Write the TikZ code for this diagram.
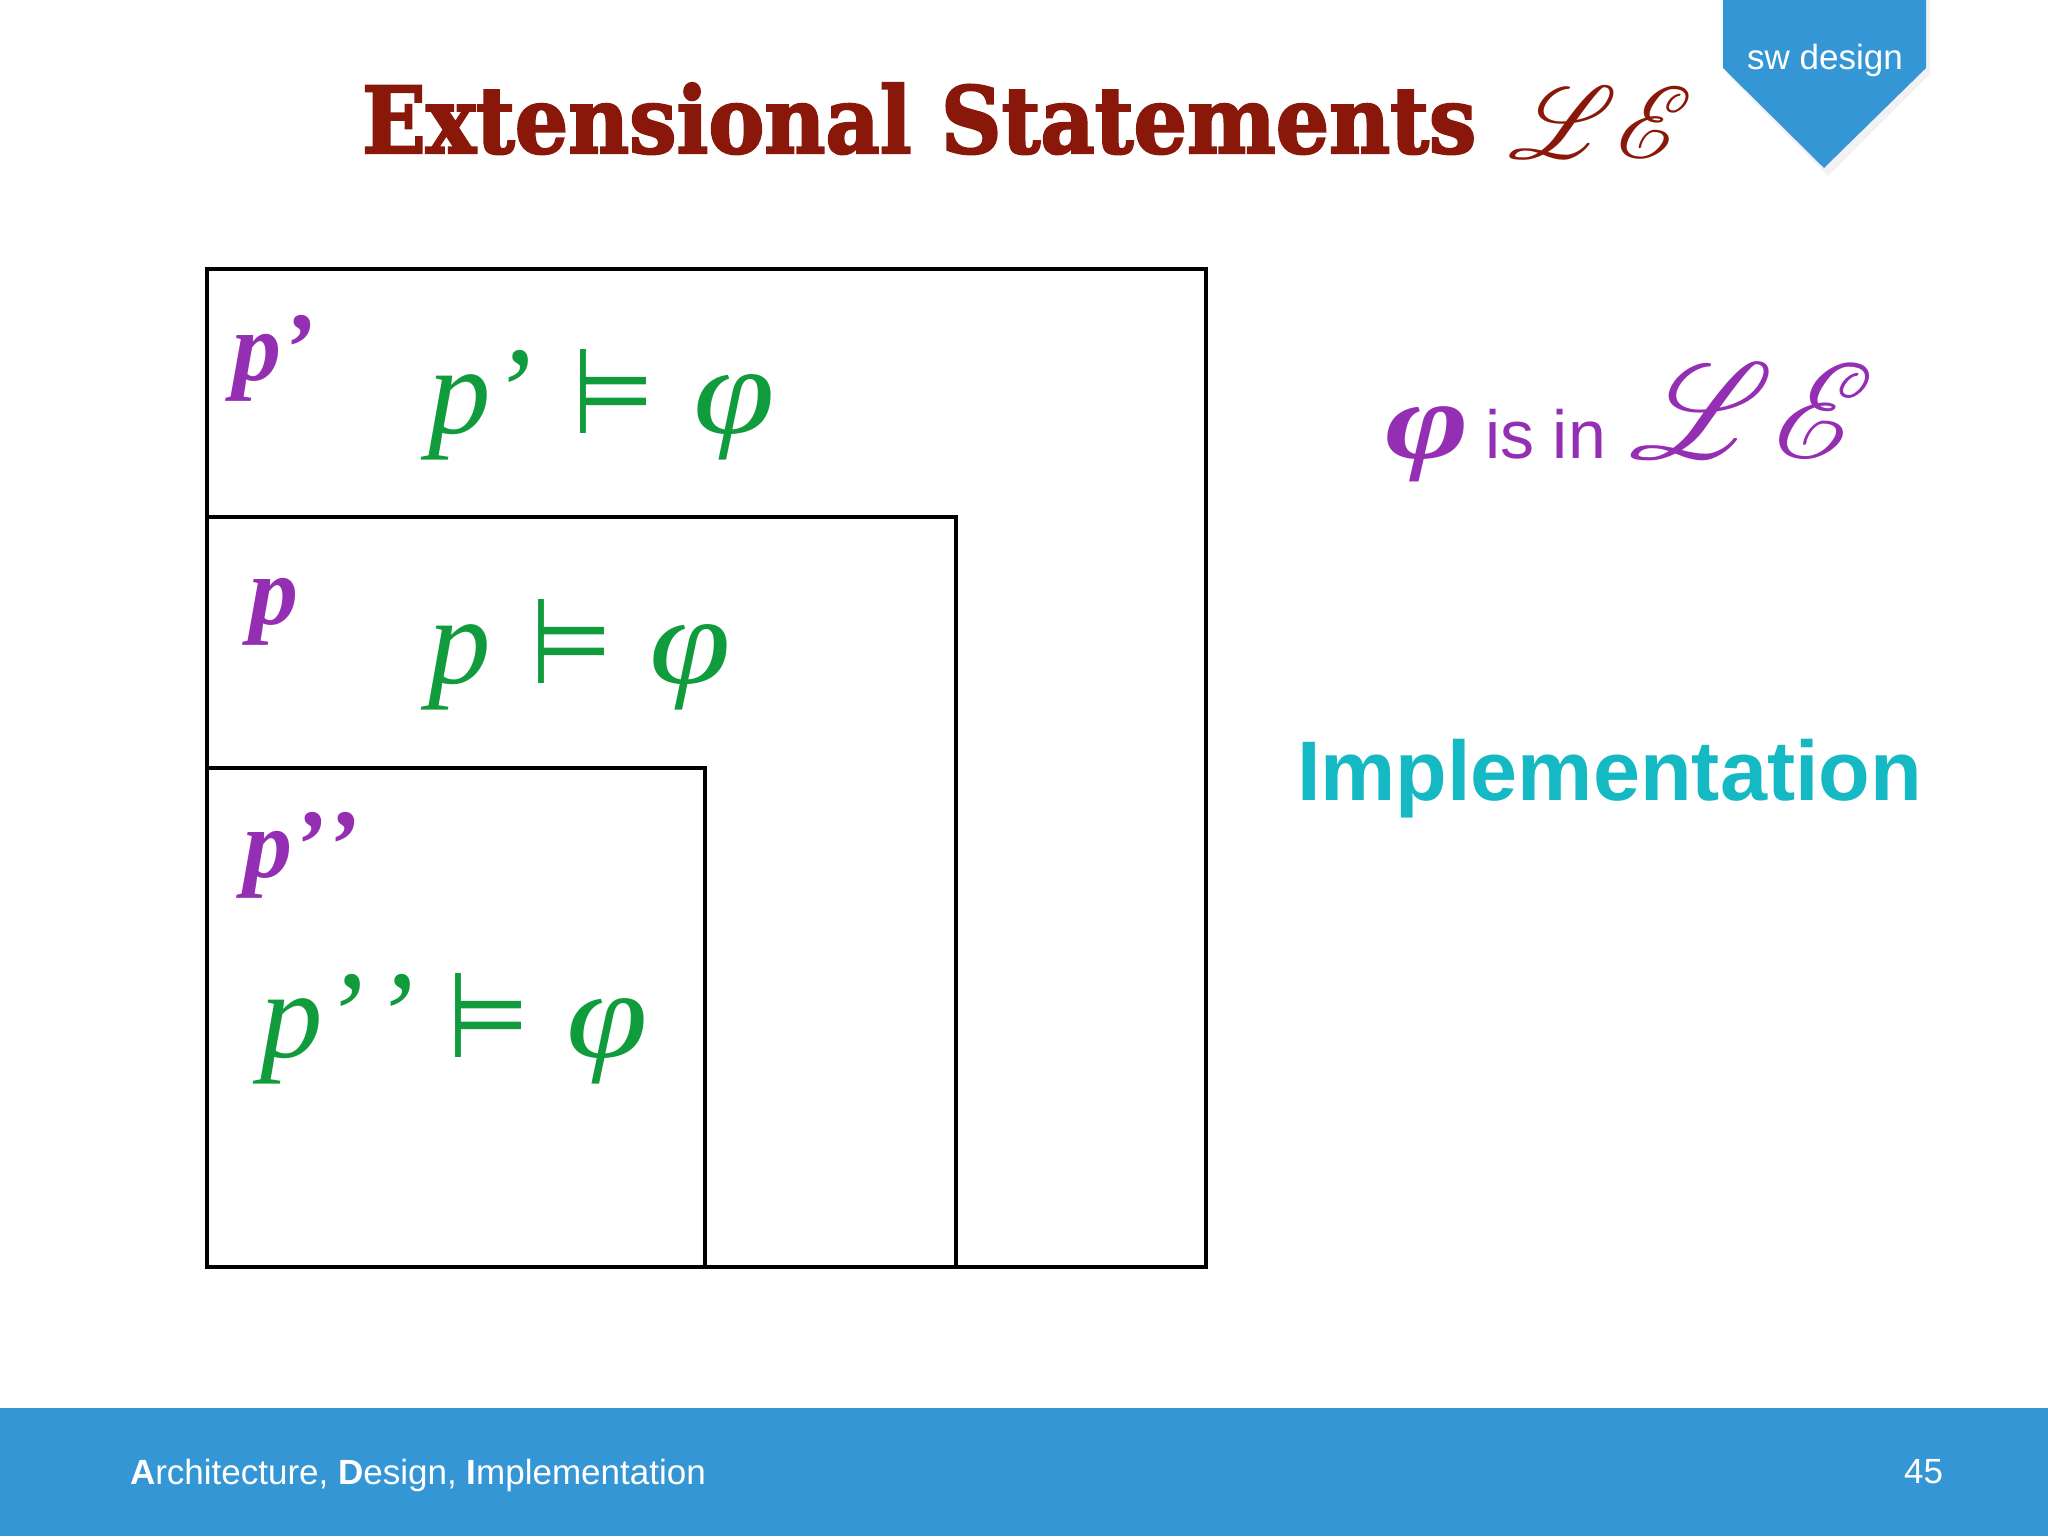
\documentclass[tikz,border=0pt]{standalone}
\usepackage{fontspec}
\usepackage{mathrsfs}
\setmainfont{Liberation Serif}
\newfontfamily\hel{Liberation Sans}
\newfontfamily\dvs{DejaVu Sans}
\newfontfamily\slab{DejaVu Serif}[FakeBold=2.5]
\newlength\pxu \setlength\pxu{0.5pt}
\definecolor{swblue}{RGB}{52,150,212}
\definecolor{titlered}{RGB}{138,24,10}
\definecolor{ppl}{RGB}{148,46,178}
\definecolor{grn}{RGB}{16,155,60}
\definecolor{teal}{RGB}{21,185,195}
\newcommand\fs[1]{\fontsize{#1}{#1}\selectfont}
\tikzset{
  txt/.style={inner sep=0pt, outer sep=0pt, anchor=base west},
  boxline/.style={draw=black, line width=2pt},
  plabel/.style={txt, text=ppl, font=\fs{49pt}\bfseries\itshape},
  formula/.style={txt, text=grn, font=\fs{62.5pt}\itshape},
}
\newcommand\ent{\resizebox{41pt}{42pt}{\upshape\dvs ⊨}}
\newcommand\phibig{\scalebox{1.18}[1]{φ}}
\begin{document}
\begin{tikzpicture}[x=0.5pt,y=-0.5pt]
\useasboundingbox (0,0) rectangle (2048,1536);
\fill[white] (0,0) rectangle (2048,1536);
% tag
\fill[black!5] (1727,0) -- (1930,0) -- (1930,74) -- (1828,176) -- (1727,74) -- cycle;
\fill[swblue] (1723,0) -- (1926,0) -- (1926,68) -- (1824,168) -- (1723,68) -- cycle;
\node[txt, anchor=base, text=white, font=\hel\fs{17.5pt}] (tag) at (1825,69) {sw design};
% title
\node[txt, text=titlered] (title) at (362,153) {\resizebox{1114\pxu}{70\pxu}{\slab\bfseries Extensional Statements}};
\node[txt, text=titlered] (titleLE) at (1508,158) {\resizebox{185\pxu}{!}{$\mathscr{L}\mathscr{E}$}};
% boxes
\draw[boxline] (207,269) rectangle (1206,1267);
\draw[boxline] (207,517) rectangle (956,1267);
\draw[boxline] (207,768) rectangle (705,1267);
% purple labels
\node[plabel] (lp1) at (232,380) {p’};
\node[plabel] (lp0) at (249,624) {p};
\node[plabel] (lp2) at (243,877) {p’\kern1\pxu’};
% green formulas
\node[formula] (f1) at (428,433) {\makebox[144\pxu][l]{p’}\makebox[121\pxu][l]{\ent}\phibig};
\node[formula] (f0) at (428,683) {\makebox[102\pxu][l]{p}\makebox[119\pxu][l]{\ent}\phibig};
\node[formula] (f2) at (260,1057) {\makebox[187\pxu][l]{p’\kern8\pxu’}\makebox[119\pxu][l]{\ent}\phibig};
% right side
\node[txt, text=ppl] (isin) at (1385,458) {\makebox[100\pxu][l]{\fs{55pt}\bfseries\itshape\scalebox{1.3}[1]{φ}}{\hel\fs{34pt}is in}\hspace{24\pxu}\resizebox{245\pxu}{!}{$\mathscr{L}\mathscr{E}$}};
\node[txt, text=teal, font=\hel\bfseries\fs{42.3pt}] (impl) at (1297,800) {Implementation};
% footer
\fill[swblue] (0,1408) rectangle (2048,1536);
\node[txt, text=white, font=\hel\fs{17.5pt}] (foot) at (130,1484) {\textbf{A}rchitecture, \textbf{D}esign, \textbf{I}mplementation};
\node[txt, anchor=base east, text=white, font=\hel\fs{17.5pt}] (page) at (1943,1483) {45};
\end{tikzpicture}
\end{document}
